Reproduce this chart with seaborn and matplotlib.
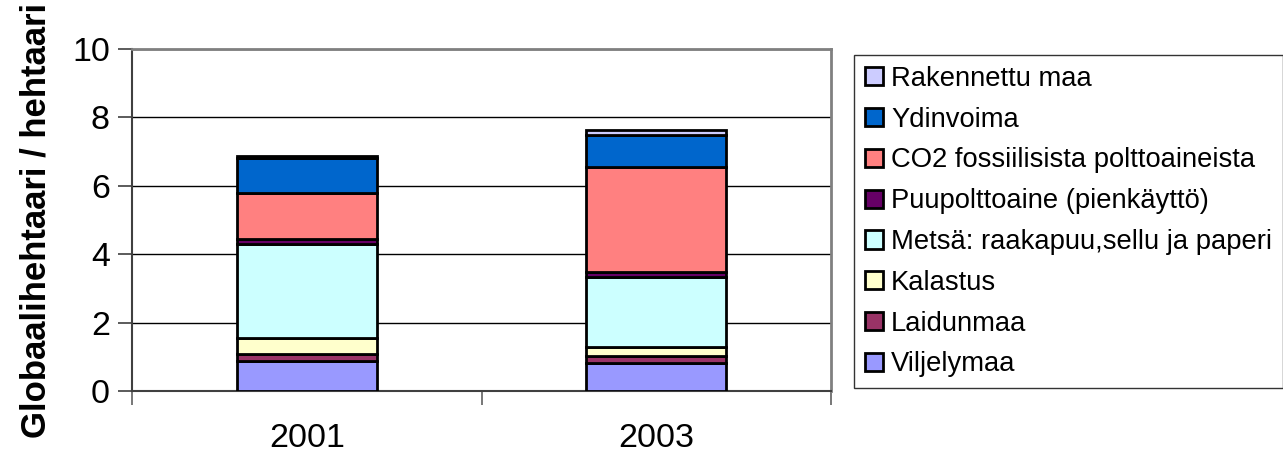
import matplotlib
matplotlib.use("Agg")
import matplotlib.pyplot as plt
from matplotlib.patches import Patch
import numpy as np
import pandas as pd
import seaborn as sns

years = ["2001", "2003"]
series = [
    "Viljelymaa",
    "Laidunmaa",
    "Kalastus",
    "Metsä: raakapuu,sellu ja paperi",
    "Puupolttoaine (pienkäyttö)",
    "CO2 fossiilisista polttoaineista",
    "Ydinvoima",
    "Rakennettu maa",
]
viljelymaa = [0.88, 0.81]
laidunmaa = [0.19, 0.22]
kalastus = [0.47, 0.27]
metsa = [2.76, 2.04]
puupolttoaine = [0.14, 0.15]
co2 = [1.36, 3.07]
ydinvoima = [1.00, 0.92]
rakennettu = [0.07, 0.15]
values = [viljelymaa, laidunmaa, kalastus, metsa, puupolttoaine, co2, ydinvoima, rakennettu]
colors = ["#9999FF", "#993366", "#FFFFCC", "#CCFFFF", "#660066", "#FF8080", "#0066CC", "#CCCCFF"]

sns.set_style("white")
plt.rcParams["font.family"] = ["Liberation Sans", "DejaVu Sans"]
plt.rcParams["text.color"] = "black"
plt.rcParams["axes.labelcolor"] = "black"
plt.rcParams["xtick.color"] = "black"
plt.rcParams["ytick.color"] = "black"

fig = plt.figure(figsize=(12.83, 4.57), dpi=100)
ax = fig.add_axes([132 / 1283, 66 / 457, 699 / 1283, 342 / 457])

bottom = np.zeros(len(years))
for name, vals, col in zip(series, values, colors):
    df = pd.DataFrame({"year": years, "value": vals})
    sns.barplot(data=df, x="year", y="value", bottom=bottom, color=col,
                width=0.4, edgecolor="black", linewidth=2, ax=ax, zorder=3,
                saturation=1)
    bottom = bottom + np.array(vals)

ax.set_xlim(-0.5, 1.5)
ax.set_ylim(0, 10)
ax.set_yticks(range(0, 11, 2))
ax.yaxis.grid(True, color="black", linewidth=1, zorder=0)
ax.set_axisbelow(True)

for side in ["top", "right"]:
    ax.spines[side].set_color("#808080")
    ax.spines[side].set_linewidth(2)
for side in ["left", "bottom"]:
    ax.spines[side].set_color("#404040")
    ax.spines[side].set_linewidth(1.5)

ax.tick_params(axis="y", direction="out", length=10, width=1.2, color="#404040",
               labelsize=24.5, pad=6, left=True, labelcolor="black")
ax.tick_params(axis="x", length=0, labelsize=24.5, pad=23, labelcolor="black")
# category separator ticks below the x axis
ax.set_xticks([-0.5, 0.5, 1.5], minor=True)
ax.tick_params(axis="x", which="minor", direction="out", length=10, width=1.2,
               color="#606060", bottom=True)

ax.set_xlabel("")
ax.set_ylabel("Globaalihehtaari / hehtaari", fontsize=25, fontweight="bold",
              labelpad=14, color="black")

handles = [Patch(facecolor=c, edgecolor="black", linewidth=2, label=n)
           for n, c in zip(series, colors)][::-1]
leg = fig.legend(handles=handles, loc="upper left",
                 bbox_to_anchor=(854 / 1283, (457 - 55) / 457),
                 fontsize=19.7, frameon=True, fancybox=False, edgecolor="black",
                 handlelength=0.65, handleheight=0.65, handletextpad=0.3,
                 labelspacing=0.54, borderpad=0.4, borderaxespad=0)
leg.get_frame().set_linewidth(1)

fig.savefig("out.png", dpi=100)
